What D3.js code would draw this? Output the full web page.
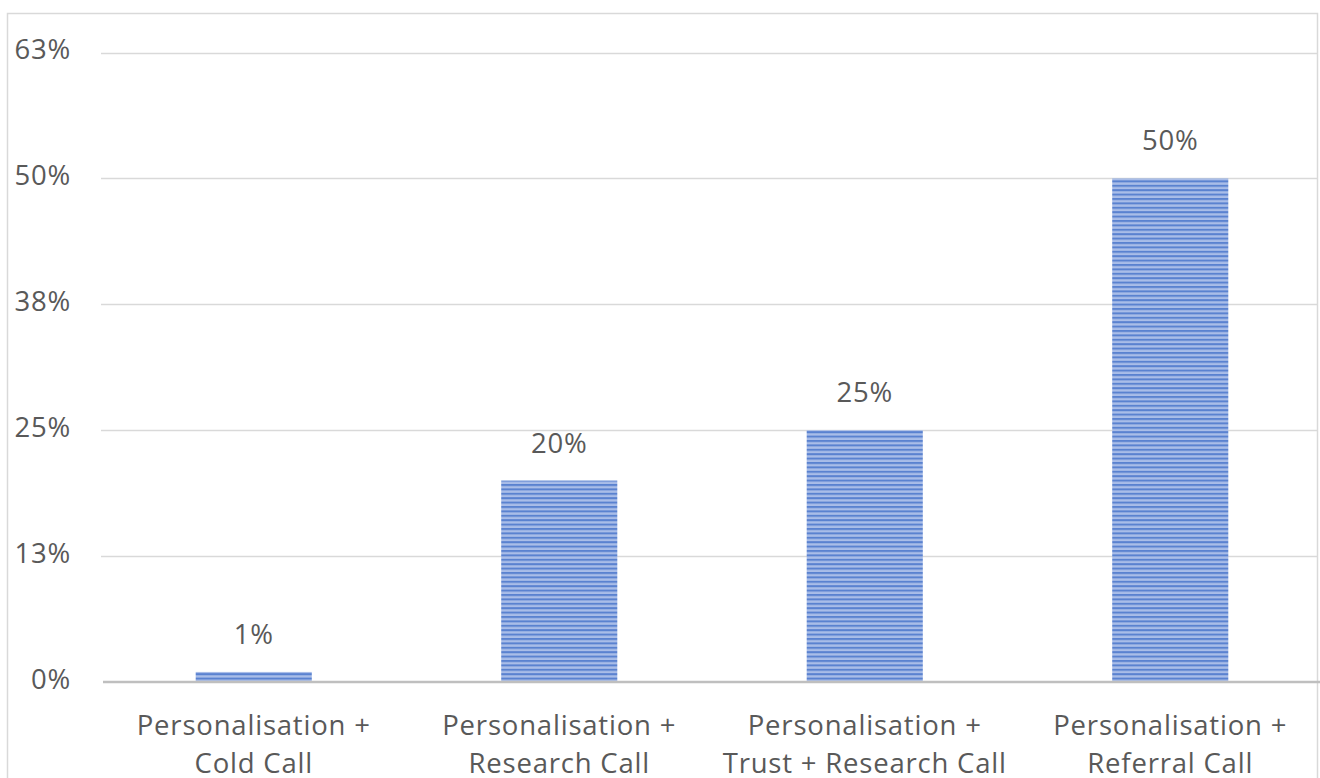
<!DOCTYPE html>
<html>
<head>
<meta charset="utf-8">
<script src="https://cdn.jsdelivr.net/npm/d3@7"></script>
<style>
  html, body { margin: 0; padding: 0; background: #ffffff; }
  svg { display: block; }
  text { font-family: "Open Sans", "Noto Sans", "DejaVu Sans", sans-serif; fill: #595959; letter-spacing: 0.8px; }
</style>
</head>
<body>
<svg id="chart" width="1320" height="778"></svg>
<script>
// Conversion rate by outreach approach
const categories = [
  ["Personalisation +", "Cold Call"],
  ["Personalisation +", "Research Call"],
  ["Personalisation +", "Trust + Research Call"],
  ["Personalisation +", "Referral Call"]
];
const values = [0.01, 0.20, 0.25, 0.50];
const valueLabels = ["1%", "20%", "25%", "50%"];
const tickValues = [0, 0.125, 0.25, 0.375, 0.5, 0.625];
const tickLabels = ["0%", "13%", "25%", "38%", "50%", "63%"];

const W = 1320, H = 778;
const plot = { left: 101, right: 1323, top: 52.5, bottom: 682 };
const fontSize = 27.5;

const svg = d3.select("#chart");

// Horizontal-stripe fill used by the bars
const defs = svg.append("defs");
const pat = defs.append("pattern")
  .attr("id", "hstripe")
  .attr("patternUnits", "userSpaceOnUse")
  .attr("width", 8)
  .attr("height", 4.4);
pat.append("rect").attr("width", 8).attr("height", 4.4).attr("fill", "#a9bde8");
pat.append("rect").attr("y", 0).attr("width", 8).attr("height", 2).attr("fill", "#5a82d0");

// Chart area outline
svg.append("rect")
  .attr("x", 7.5).attr("y", 13.5)
  .attr("width", 1310).attr("height", 800)
  .attr("fill", "none")
  .attr("stroke", "#d9d9d9")
  .attr("stroke-width", 1.5);

const x = d3.scaleBand()
  .domain(d3.range(categories.length))
  .range([plot.left, plot.right])
  .paddingInner(0.62)
  .paddingOuter(0.31);

const y = d3.scaleLinear()
  .domain([0, tickValues[tickValues.length - 1]])
  .range([plot.bottom, plot.top]);

// Gridlines
svg.append("g")
  .selectAll("line")
  .data(tickValues.filter(t => t > 0))
  .join("line")
  .attr("x1", plot.left)
  .attr("x2", 1318)
  .attr("y1", d => Math.round(y(d)) + 0.5)
  .attr("y2", d => Math.round(y(d)) + 0.5)
  .attr("stroke", "#d9d9d9")
  .attr("stroke-width", 1.3);

// Y axis tick labels
const yAxis = d3.axisLeft(y)
  .tickValues(tickValues)
  .tickFormat((d, i) => tickLabels[i])
  .tickSize(0)
  .tickPadding(0);
const gy = svg.append("g")
  .attr("transform", `translate(71,0)`)
  .call(yAxis);
gy.select(".domain").remove();
gy.selectAll("text")
  .attr("font-size", fontSize)
  .attr("font-family", null)
  .attr("fill", "#595959")
  .attr("dy", "0.22em");

// Bars
svg.append("g")
  .selectAll("rect")
  .data(values)
  .join("rect")
  .attr("x", (d, i) => x(i))
  .attr("width", x.bandwidth())
  .attr("y", d => y(d))
  .attr("height", d => y(0) - y(d))
  .attr("fill", "url(#hstripe)");

// Value labels above bars
svg.append("g")
  .selectAll("text")
  .data(values)
  .join("text")
  .attr("x", (d, i) => x(i) + x.bandwidth() / 2)
  .attr("y", d => y(d) - 28)
  .attr("text-anchor", "middle")
  .attr("font-size", fontSize)
  .text((d, i) => valueLabels[i]);

// Baseline (category axis)
const xAxis = d3.axisBottom(x).tickSize(0).tickFormat("");
const gx = svg.append("g")
  .attr("transform", `translate(0,${plot.bottom})`)
  .call(xAxis);
gx.select(".domain")
  .attr("stroke", "#bfbfbf")
  .attr("stroke-width", 2.5)
  .attr("d", `M${plot.left + 2},0H${W}`);

// Category labels (two lines each)
const catG = svg.append("g")
  .selectAll("text")
  .data(categories)
  .join("text")
  .attr("text-anchor", "middle")
  .attr("font-size", fontSize);
catG.selectAll("tspan")
  .data((d, i) => d.map(line => ({ line, i })))
  .join("tspan")
  .attr("x", d => x(d.i) + x.bandwidth() / 2)
  .attr("y", (d, j) => plot.bottom + 53 + j * 38)
  .text(d => d.line);
</script>
</body>
</html>
